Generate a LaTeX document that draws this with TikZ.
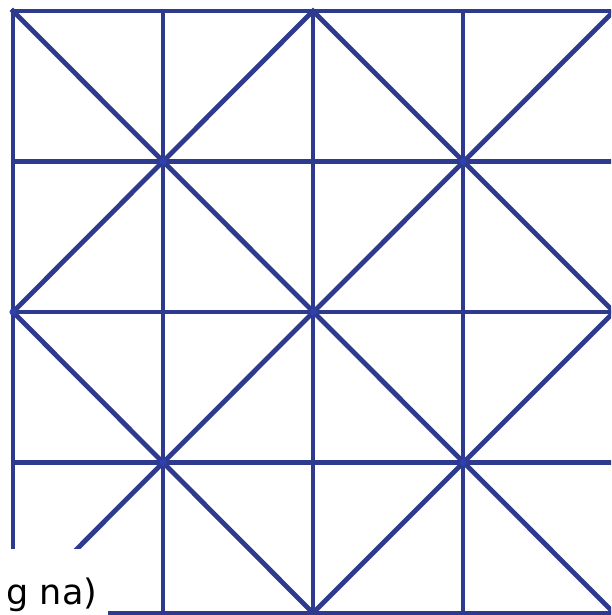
\documentclass[tikz,border=0pt]{standalone}
\usepackage{fontspec}
\setmainfont{DejaVu Sans}
\definecolor{gridblue}{HTML}{2E3A8E}
\definecolor{dotblue}{HTML}{2F40B0}
\begin{document}
\begin{tikzpicture}[x=1pt,y=-1pt,
  gridline/.style={draw=gridblue,line width=4.8pt,line cap=rect},
  vdot/.style={circle,fill=dotblue,inner sep=0pt,minimum size=7pt}]
\useasboundingbox (0,0) rectangle (611,615);
\clip (0,0) rectangle (611,615);
\fill[white] (0,0) rectangle (611,615);
% grid coordinates
\foreach \i/\x in {0/13,1/163,2/313,3/463,4/614}{
  \foreach \j/\y in {0/11,1/161.5,2/312,3/462.5,4/613}{
    \coordinate (p\i\j) at (\x,\y);
  }
}
% verticals and horizontals
\foreach \i in {0,...,4}{
  \draw[gridline] (p\i0) -- (p\i4);
  \draw[gridline] (p0\i) -- (p4\i);
}
% diagonals
\draw[gridline] (p00) -- (p44);
\draw[gridline] (p40) -- (p04);
\draw[gridline] (p20) -- (p02) -- (p24) -- (p42) -- cycle;
% intersection dots
\foreach \n in {p11,p31,p13,p33,p22,p02}{
  \node[vdot] at (\n) {};
}
% label box
\fill[white] (-1,549) rectangle (108,616);
\node[anchor=base east,inner sep=0pt,font=\fontsize{35}{38}\selectfont] (lbl) at (97.5,604) {g na)};
\end{tikzpicture}
\end{document}
